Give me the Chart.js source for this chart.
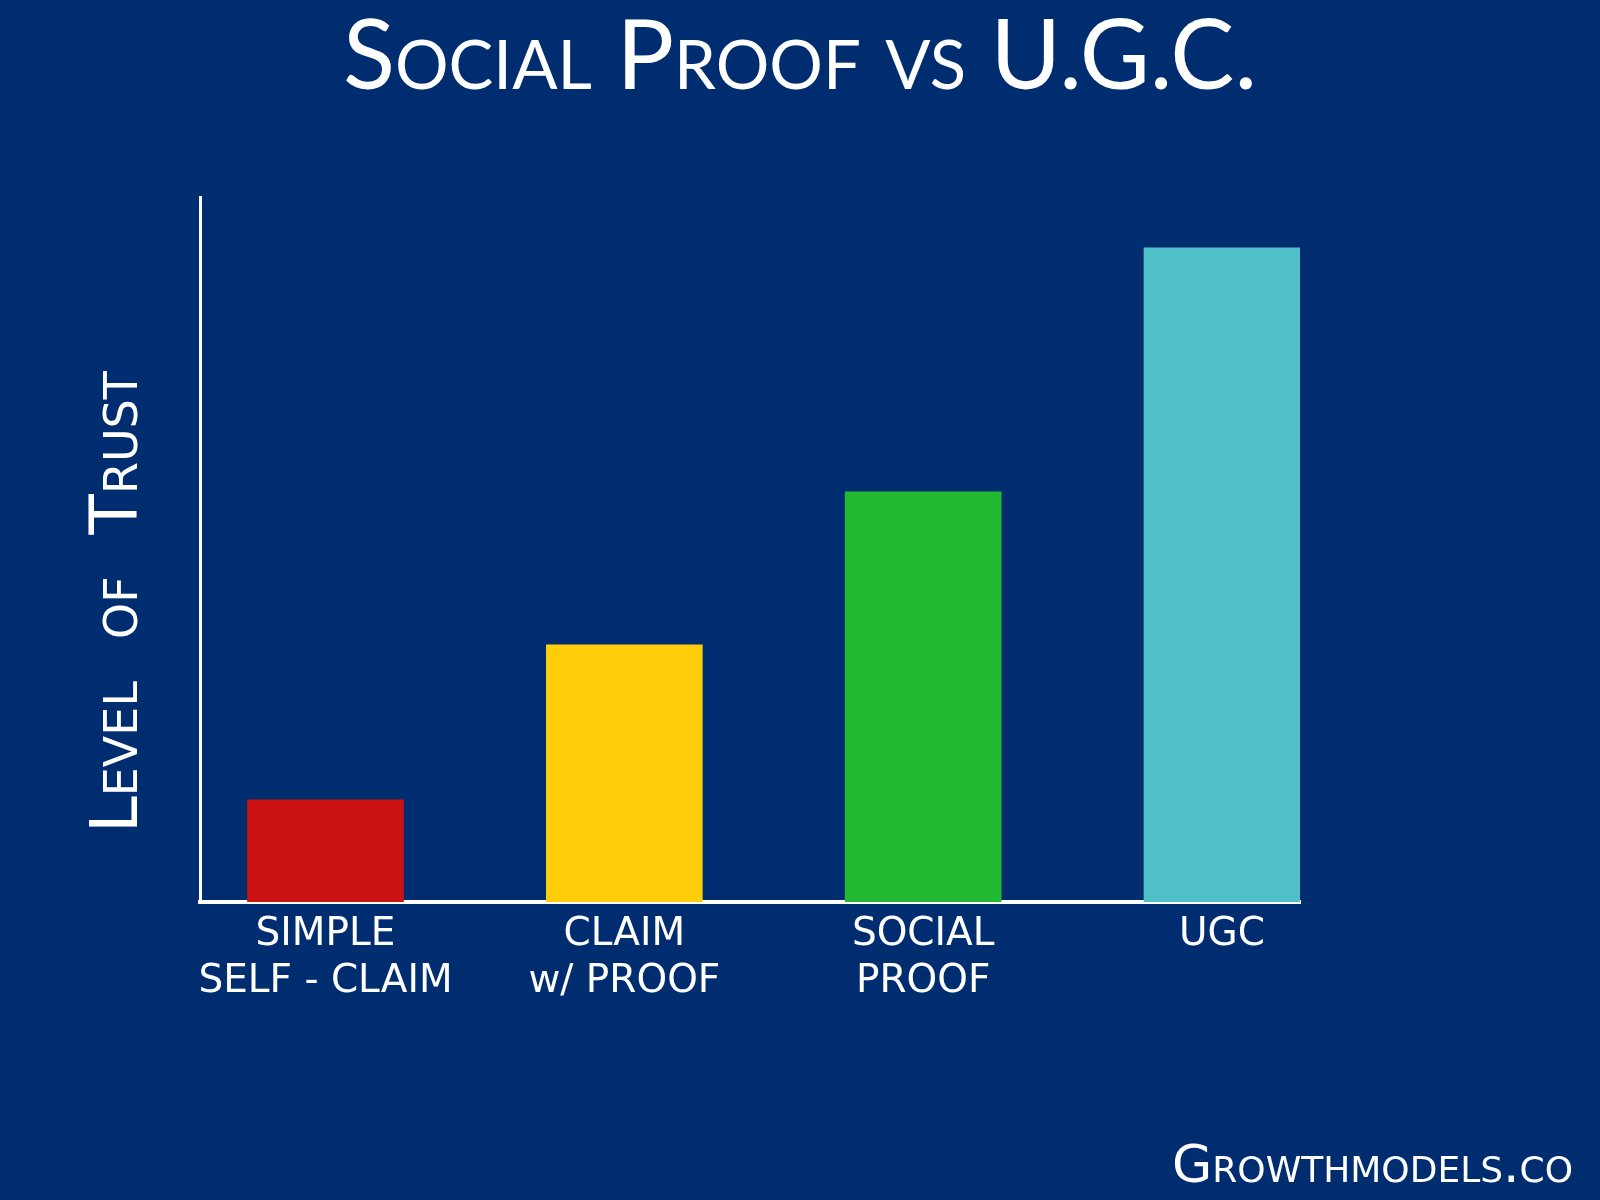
<!DOCTYPE html>
<html>
<head>
<meta charset="utf-8">
<script src="https://cdn.jsdelivr.net/npm/chart.js@4"></script>
<style>
  html, body { margin: 0; padding: 0; background: #002d6f; }
  #wrap { width: 1600px; height: 1200px; }
</style>
</head>
<body>
<div id="wrap"><canvas id="ctx" width="1600" height="1200"></canvas></div>
<script>
// data (0-100 "level of trust")
const categories = [
  ['SIMPLE', 'SELF - CLAIM'],
  ['CLAIM', 'w/ PROOF'],
  ['SOCIAL', 'PROOF'],
  ['UGC']
];
const positions = [1, 2, 3, 4];
const trust = [14.5, 36.5, 58.2, 92.8];
const barColors = ['#cc1111', '#ffcd0a', '#20b931', '#50c0c8'];

const TITLE_FONT = 'Lato';
const FONT = 'DejaVu Sans';
const WHITE = '#ffffff';

const chartJs = new Chart(document.getElementById('ctx'), {
  type: 'bar',
  data: {
    datasets: [{
      data: trust.map((v, i) => ({ x: positions[i], y: v })),
      backgroundColor: barColors,
      borderWidth: 0,
      barThickness: 156
    }]
  },
  options: {
    responsive: false,
    animation: false,
    layout: { padding: 0 },
    plugins: {
      legend: { display: false },
      tooltip: { enabled: false },
      title: {
        display: true,
        text: 'Social Proof vs U.G.C.',
        color: WHITE,
        font: { family: TITLE_FONT, size: 96, weight: 'small-caps 400', lineHeight: 1.2 },
        padding: { top: 0, bottom: 82 }
      },
      subtitle: {
        display: true,
        position: 'bottom',
        align: 'end',
        text: 'Growthmodels.co \u2009',
        color: WHITE,
        font: { family: FONT, size: 52, weight: 'small-caps 400', lineHeight: 1.2 },
        padding: { top: 0, bottom: 0 }
      }
    },
    scales: {
      x: {
        type: 'linear',
        offset: false,
        min: 0.58,
        max: 4.261,
        grid: { display: false, drawTicks: false, offset: false },
        border: { display: true, color: WHITE, width: 4 },
        afterBuildTicks: (scale) => {
          scale.ticks = positions.map(v => ({ value: v }));
        },
        ticks: {
          color: WHITE,
          padding: 9,
          autoSkip: false,
          maxRotation: 0,
          font: { family: FONT, size: 39, lineHeight: 1.22 },
          callback: (value) => categories[positions.indexOf(value)]
        },
        afterFit: (scale) => { scale.height = 235.6; }
      },
      y: {
        min: 0,
        max: 100,
        grid: { display: false, drawTicks: false },
        border: { display: true, color: WHITE, width: 3 },
        ticks: { display: false },
        title: {
          display: true,
          text: 'Level  of  Trust     ',
          color: WHITE,
          font: { family: FONT, size: 66, weight: 'small-caps 400', lineHeight: 1.2 },
          padding: { top: 80, bottom: 0 }
        },
        afterFit: (scale) => { scale.width = 200; }
      },
      yRight: {
        position: 'right',
        min: 0,
        max: 1,
        grid: { display: false, drawTicks: false },
        border: { display: false },
        ticks: { display: false },
        afterFit: (scale) => { scale.width = 300; }
      }
    }
  }
});
</script>
</body>
</html>
